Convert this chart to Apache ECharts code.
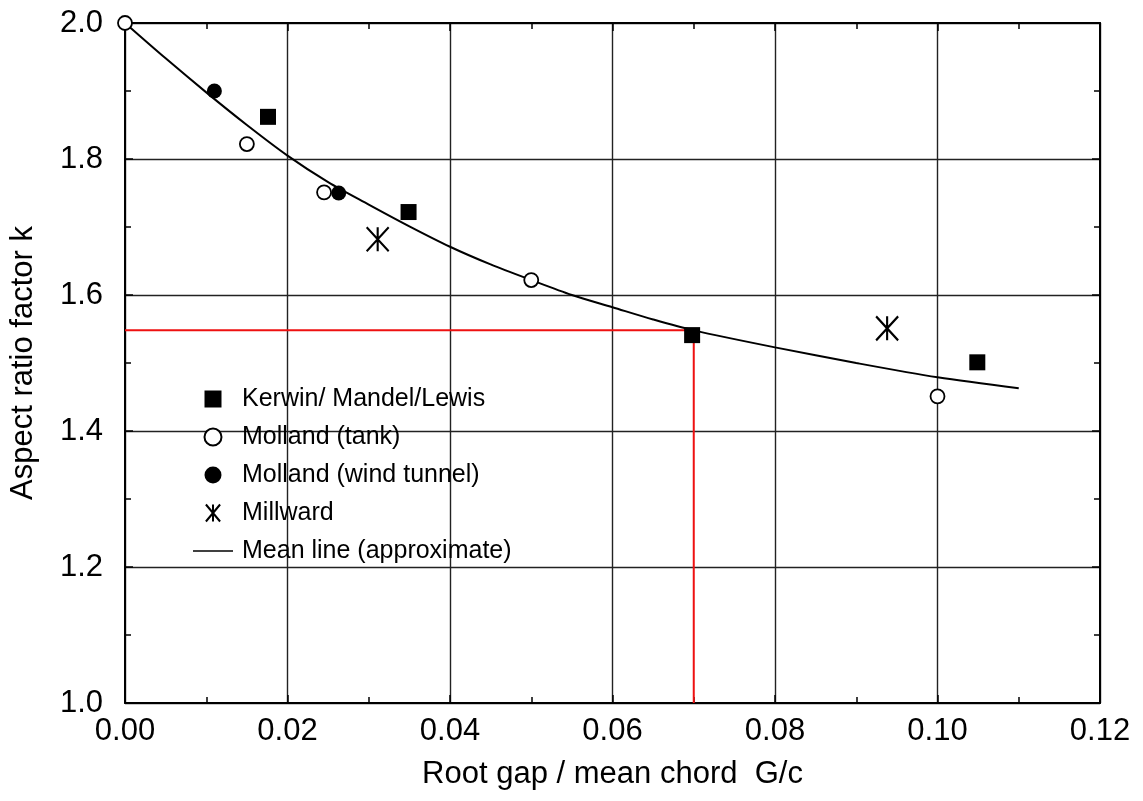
<!DOCTYPE html>
<html>
<head>
<meta charset="utf-8">
<script src="https://cdn.jsdelivr.net/npm/echarts@6/dist/echarts.min.js"></script>
<style>
html,body{margin:0;padding:0;background:#fff;}
#chart{width:1143px;height:801px;}
</style>
</head>
<body>
<div id="chart"></div>
<script>
// ---- data ----
const kerwin = [[0.0176,1.862],[0.0349,1.722],[0.0698,1.541],[0.1049,1.501]];
const mollandTank = [[0,2.0],[0.015,1.822],[0.0245,1.751],[0.05,1.622],[0.1,1.451]];
const mollandWind = [[0.011,1.90],[0.0263,1.75]];
const millward = [[0.0311,1.682],[0.0938,1.551]];
const meanX = [0,0.005,0.01,0.015,0.02,0.025,0.03,0.035,0.04,0.045,0.05,0.055,0.06,0.065,0.07,0.08,0.09,0.10,0.11];
const meanK = [2.000,1.948,1.898,1.850,1.805,1.766,1.733,1.701,1.671,1.645,1.622,1.600,1.582,1.564,1.548,1.523,1.500,1.479,1.463];
const guideX = 0.07;
const guideK = 1.548;
const seriesNames = ['Kerwin/ Mandel/Lewis','Molland (tank)','Molland (wind tunnel)','Millward','Mean line (approximate)'];

const FONT = '"Liberation Sans", Arial, sans-serif';
const chart = echarts.init(document.getElementById('chart'), null, {renderer:'canvas'});

const meanLine = meanX.map((x,i)=>[x,meanK[i]]);
const guide = [[0,guideK],[guideX,guideK],[guideX,1.0]];
const starPath = 'path://M0,0L20,24M20,0L0,24M10,0L10,24';
const squarePath = 'path://M0,0H10V10H0Z';
const linePath = 'path://M0,0H40V1.6H0Z';

const option = {
  backgroundColor:'#fff',
  animation:false,
  grid:{left:124,right:43,top:23,bottom:98,containLabel:false},
  legend:{
    data:[
      {name:seriesNames[0],icon:squarePath},
      {name:seriesNames[1]},
      {name:seriesNames[2]},
      {name:seriesNames[3]},
      {name:seriesNames[4],icon:linePath}
    ],
    orient:'vertical',
    left:193, top:385,
    padding:0,
    itemWidth:40, itemHeight:17,
    itemGap:10,
    textStyle:{fontFamily:FONT,fontSize:25,color:'#000',lineHeight:28,padding:[0,0,0,4]}
  },
  xAxis:[{
    type:'value', min:0, max:0.12, interval:0.02,
    position:'bottom',
    name:'Root gap / mean chord  G/c', nameLocation:'middle', nameGap:56,
    nameTextStyle:{fontFamily:FONT,fontSize:31,color:'#000'},
    axisLine:{show:true,onZero:false,lineStyle:{color:'#000',width:2}},
    axisTick:{show:true,inside:true,length:8,lineStyle:{color:'#000',width:1.5}},
    minorTick:{show:true,splitNumber:2,length:6,lineStyle:{color:'#000',width:1.5}},
    axisLabel:{fontFamily:FONT,fontSize:31,color:'#000',margin:13,formatter:v=>v.toFixed(2)},
    splitLine:{show:true,lineStyle:{color:'#222',width:1.4}}
  },{
    type:'value', min:0, max:0.12, interval:0.02, position:'top',
    axisLine:{show:true,onZero:false,lineStyle:{color:'#000',width:2}},
    axisTick:{show:true,inside:true,length:8,lineStyle:{color:'#000',width:1.5}},
    minorTick:{show:true,splitNumber:2,length:6,lineStyle:{color:'#000',width:1.5}},
    axisLabel:{show:false}, splitLine:{show:false}
  }],
  yAxis:[{
    type:'value', min:1.0, max:2.0, interval:0.2,
    position:'left',
    name:'Aspect ratio factor k', nameLocation:'middle', nameGap:86,
    nameTextStyle:{fontFamily:FONT,fontSize:31,color:'#000'},
    axisLine:{show:true,onZero:false,lineStyle:{color:'#000',width:2}},
    axisTick:{show:true,inside:true,length:8,lineStyle:{color:'#000',width:1.5}},
    minorTick:{show:true,splitNumber:2,length:6,lineStyle:{color:'#000',width:1.5}},
    axisLabel:{fontFamily:FONT,fontSize:31,color:'#000',margin:22,formatter:v=>v.toFixed(1)},
    splitLine:{show:true,lineStyle:{color:'#222',width:1.4}}
  },{
    type:'value', min:1.0, max:2.0, interval:0.2, position:'right',
    axisLine:{show:true,onZero:false,lineStyle:{color:'#000',width:2}},
    axisTick:{show:true,inside:true,length:8,lineStyle:{color:'#000',width:1.5}},
    minorTick:{show:true,splitNumber:2,length:6,lineStyle:{color:'#000',width:1.5}},
    axisLabel:{show:false}, splitLine:{show:false}
  }],
  series:[
    {name:'guide',type:'line',data:guide,symbol:'none',z:2,
     lineStyle:{color:'#ee1111',width:2},silent:true},
    {name:seriesNames[4],type:'line',data:meanLine,symbol:'none',smooth:0.3,z:3,
     lineStyle:{color:'#000',width:2},itemStyle:{color:'#000'}},
    {name:seriesNames[0],type:'scatter',data:kerwin,symbol:squarePath,symbolSize:16,z:5,clip:false,
     itemStyle:{color:'#000',borderColor:'#000',borderWidth:0,opacity:1}},
    {name:seriesNames[1],type:'scatter',data:mollandTank,symbol:'circle',symbolSize:14,z:5,clip:false,
     itemStyle:{color:'#fff',borderColor:'#000',borderWidth:1.8,opacity:1}},
    {name:seriesNames[2],type:'scatter',data:mollandWind,symbol:'circle',symbolSize:15,z:6,clip:false,
     itemStyle:{color:'#000',borderColor:'#000',borderWidth:0,opacity:1}},
    {name:seriesNames[3],type:'scatter',data:millward,symbol:starPath,symbolSize:[22,24],z:5,clip:false,
     itemStyle:{color:'#000',borderColor:'#000',borderWidth:2.2,opacity:1}}
  ]
};
chart.setOption(option);
</script>
</body>
</html>
